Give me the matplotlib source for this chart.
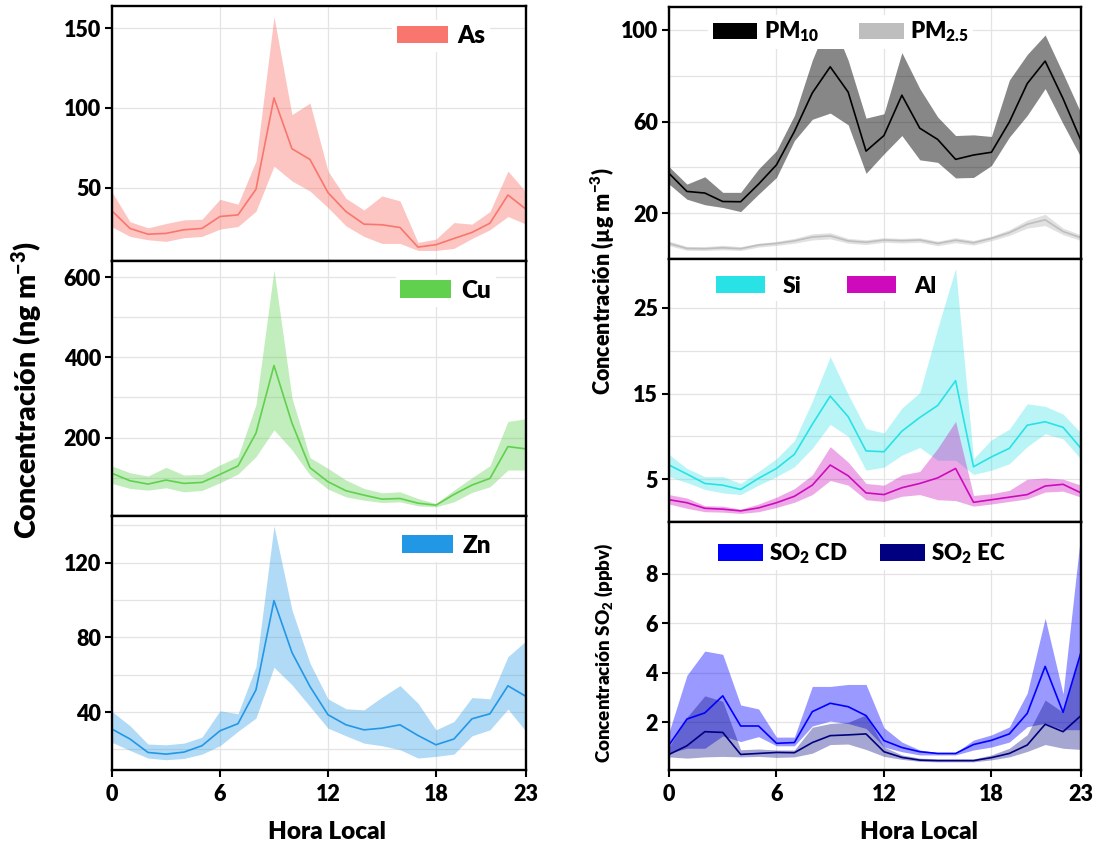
import numpy as np
import matplotlib
matplotlib.use("Agg")
import matplotlib.pyplot as plt
from matplotlib.patches import Patch

plt.rcParams['font.family'] = ['Lato', 'DejaVu Sans']
plt.rcParams['font.weight'] = 'heavy'
plt.rcParams['mathtext.fontset'] = 'custom'
plt.rcParams['mathtext.rm'] = 'Lato:heavy'
plt.rcParams['mathtext.it'] = 'Lato:heavy'
plt.rcParams['mathtext.bf'] = 'Lato:heavy'
plt.rcParams['mathtext.default'] = 'regular'

hours = np.arange(24)

# metales (ng m-3): media y banda
as_mean = [35.4, 24.4, 20.8, 21.3, 23.6, 24.4, 31.9, 32.9, 49.0, 106.3, 74.4, 67.7,
           46.9, 35.0, 27.1, 26.7, 25.0, 12.7, 14.2, 18.1, 21.9, 27.7, 45.4, 36.5]
as_hi = [47.3, 28.6, 24.8, 27.5, 29.8, 30.2, 42.7, 39.6, 66.7, 157.3, 95.8, 103.1,
         60.4, 43.3, 36.0, 44.8, 41.7, 15.6, 17.7, 28.1, 27.1, 35.0, 60.4, 47.3]
as_lo = [25.4, 19.4, 17.3, 16.3, 18.6, 19.4, 24.0, 25.6, 35.2, 63.5, 54.2, 47.9,
         37.5, 26.0, 19.4, 15.0, 15.0, 10.6, 10.6, 11.9, 18.1, 23.6, 31.9, 27.1]

cu_mean = [110.5, 92.1, 83.7, 93.7, 85.4, 87.9, 107.9, 128.9, 210.9, 379.9, 236.0, 124.7,
           89.6, 67.0, 56.1, 46.1, 47.7, 36.0, 31.0, 57.8, 81.2, 97.9, 177.4, 171.6]
cu_hi = [128.9, 112.1, 103.8, 125.5, 106.3, 107.9, 131.4, 152.3, 282.0, 618.4, 298.8, 149.8,
         123.0, 93.7, 72.8, 61.9, 64.4, 47.7, 35.2, 68.6, 99.6, 129.7, 240.2, 246.9]
cu_lo = [85.4, 72.8, 68.6, 74.5, 64.4, 67.8, 87.0, 108.8, 152.3, 219.2, 169.1, 106.3,
         71.1, 51.9, 43.5, 37.7, 39.4, 29.3, 26.8, 39.4, 62.8, 77.0, 118.8, 118.8]

zn_mean = [30.9, 25.6, 18.4, 17.5, 18.6, 22.0, 30.0, 33.8, 51.9, 99.7, 71.9, 53.7,
           38.6, 33.2, 30.5, 31.4, 33.2, 27.5, 22.5, 25.6, 36.4, 39.1, 54.1, 48.4]
zn_hi = [40.3, 32.7, 22.9, 22.5, 23.4, 26.6, 40.7, 39.1, 64.4, 139.6, 94.7, 66.2,
         47.1, 41.8, 41.2, 48.0, 54.2, 44.8, 30.5, 35.0, 47.8, 47.1, 69.7, 78.1]
zn_lo = [23.8, 19.5, 15.4, 14.5, 15.2, 17.5, 22.0, 29.7, 36.8, 64.0, 54.6, 43.0,
         31.4, 27.3, 23.4, 22.0, 19.9, 15.4, 16.3, 17.5, 27.3, 30.5, 41.6, 29.7]

# PM (ug m-3)
pm10_mean = [37.4, 29.5, 28.8, 25.1, 25.0, 32.7, 41.1, 55.7, 72.5, 83.9, 72.9, 47.1,
             53.9, 71.5, 57.1, 52.2, 43.5, 45.4, 46.6, 59.8, 76.6, 86.4, 70.0, 51.7]
pm10_hi = [40.3, 32.7, 35.9, 29.1, 29.1, 39.3, 47.3, 62.7, 86.8, 105.9, 86.8, 61.5,
           63.4, 90.1, 74.4, 62.0, 53.9, 54.2, 53.5, 78.1, 89.3, 97.8, 81.0, 63.7]
pm10_lo = [32.7, 26.1, 23.7, 22.5, 20.7, 28.3, 35.6, 51.7, 61.0, 63.7, 58.6, 37.4,
           45.9, 53.9, 43.3, 42.2, 35.4, 35.6, 40.8, 53.2, 62.7, 74.4, 59.0, 44.4]
pm25_mean = [6.8, 4.6, 4.5, 4.9, 4.5, 6.1, 6.8, 7.9, 9.6, 10.1, 7.9, 7.3,
             8.3, 8.0, 8.3, 6.8, 8.2, 7.1, 9.0, 11.5, 15.2, 17.1, 12.0, 9.3]
pm25_hi = [7.8, 5.5, 5.4, 6.0, 5.4, 6.9, 7.7, 9.0, 11.0, 11.5, 9.0, 8.4,
           9.3, 9.0, 9.3, 7.8, 9.3, 8.1, 10.0, 12.8, 17.0, 19.5, 13.5, 10.5]
pm25_lo = [5.8, 3.8, 3.7, 4.0, 3.7, 5.2, 5.9, 6.9, 8.3, 8.8, 6.9, 6.3,
           7.3, 7.0, 7.3, 5.8, 7.1, 6.1, 8.0, 10.3, 13.5, 14.6, 10.6, 8.1]

si_mean = [6.65, 5.6, 4.5, 4.3, 3.8, 5.1, 6.25, 7.9, 11.4, 14.7, 12.3, 8.3,
           8.2, 10.6, 12.2, 13.6, 16.5, 6.45, 7.6, 8.6, 11.3, 11.7, 11.05, 8.6]
si_hi = [7.9, 6.25, 5.3, 5.3, 4.5, 5.9, 7.4, 9.5, 14.1, 19.3, 14.9, 10.9,
         10.4, 13.3, 15.1, 22.6, 29.6, 7.4, 9.6, 10.85, 13.8, 13.5, 12.6, 10.4]
si_lo = [5.3, 4.6, 3.8, 3.4, 3.2, 4.3, 5.3, 6.45, 8.6, 11.4, 10.0, 6.05,
         6.4, 7.8, 8.7, 7.2, 7.2, 5.55, 6.05, 6.8, 8.8, 10.3, 9.7, 7.35]
al_mean = [2.6, 2.25, 1.6, 1.5, 1.3, 1.65, 2.25, 3.0, 4.3, 6.65, 5.4, 3.4,
           3.2, 4.0, 4.5, 5.15, 6.25, 2.3, 2.6, 2.9, 3.2, 4.2, 4.4, 3.4]
al_hi = [3.2, 2.8, 1.9, 1.85, 1.5, 2.1, 2.9, 3.9, 5.5, 8.8, 7.0, 4.5,
         4.3, 5.5, 5.9, 8.6, 11.75, 3.1, 3.3, 3.7, 5.0, 5.15, 5.0, 4.3]
al_lo = [2.1, 1.6, 1.2, 1.15, 1.0, 1.2, 1.7, 2.3, 3.2, 4.85, 4.3, 2.6,
         2.4, 3.0, 3.2, 2.6, 2.5, 1.85, 2.1, 2.4, 2.7, 3.5, 3.6, 2.9]

# SO2 (ppbv)
cd_mean = [1.08, 2.13, 2.38, 3.07, 1.85, 1.85, 1.15, 1.18, 2.43, 2.77, 2.63, 2.27,
           1.26, 0.98, 0.81, 0.74, 0.74, 1.1, 1.27, 1.53, 2.36, 4.26, 2.4, 4.83]
cd_hi = [1.6, 3.9, 4.88, 4.75, 2.7, 2.54, 1.4, 1.4, 3.45, 3.45, 3.53, 3.53,
         1.78, 1.2, 0.88, 0.77, 0.77, 1.28, 1.49, 1.81, 3.18, 6.21, 3.15, 9.7]
cd_lo = [0.75, 0.95, 0.95, 1.45, 1.22, 1.42, 1.05, 1.05, 1.85, 2.05, 1.95, 1.75,
         1.0, 0.81, 0.68, 0.68, 0.68, 0.88, 1.0, 1.2, 1.82, 1.96, 1.7, 1.7]
ec_mean = [0.7, 1.05, 1.62, 1.59, 0.7, 0.74, 0.78, 0.77, 1.18, 1.46, 1.49, 1.53,
           0.81, 0.58, 0.47, 0.45, 0.45, 0.45, 0.57, 0.74, 1.08, 1.92, 1.62, 2.27]
ec_hi = [1.0, 2.2, 3.07, 2.85, 0.89, 0.92, 0.88, 0.88, 1.8, 1.95, 2.0, 2.3,
         1.0, 0.68, 0.55, 0.52, 0.52, 0.52, 0.68, 0.95, 1.5, 2.9, 2.4, 4.9]
ec_lo = [0.6, 0.55, 0.6, 0.62, 0.6, 0.62, 0.58, 0.6, 0.75, 1.1, 1.12, 0.9,
         0.62, 0.5, 0.42, 0.4, 0.4, 0.4, 0.48, 0.6, 0.82, 1.1, 0.95, 0.9]

fig = plt.figure(figsize=(10.98, 8.47), dpi=100)


def panel(rect, ylim, yticks, yminor, bottom=False):
    ax = fig.add_axes(rect)
    ax.set_xlim(0, 23)
    ax.set_ylim(*ylim)
    ax.set_xticks([0, 6, 12, 18, 23])
    ax.set_yticks(yticks)
    ax.set_yticks(yminor, minor=True)
    ax.grid(True, which='both', color='#e4e4e4', lw=0.9)
    ax.set_axisbelow(True)
    for s in ax.spines.values():
        s.set_linewidth(1.7)
    ax.tick_params(axis='y', which='major', direction='out', length=5, width=1.5,
                   labelsize=15.5, pad=3)
    ax.tick_params(axis='y', which='minor', length=0)
    if bottom:
        ax.tick_params(axis='x', length=5, width=1.5, labelsize=15.5, pad=5)
    else:
        ax.tick_params(axis='x', length=0, labelbottom=False)
    return ax


def band(ax, mean, lo, hi, color, alpha, lc=None):
    ax.fill_between(hours, lo, hi, color=color, alpha=alpha, lw=0)
    ax.plot(hours, mean, color=lc or color, lw=1.2)


def legend(ax, labels, colors, anchor, fs, ncol=1, tp=0.4, cs=1.5, hl=2.1):
    handles = [Patch(facecolor=c, edgecolor='none') for c in colors]
    ax.legend(handles, labels, loc='upper left', bbox_to_anchor=anchor, ncol=ncol,
              frameon=True, framealpha=1, edgecolor='none', fancybox=False,
              fontsize=fs, handlelength=hl, handleheight=0.75, handletextpad=tp,
              columnspacing=cs, borderpad=0.2, borderaxespad=0)


L, W = 0.1020, 0.3770
ax1 = panel([L, 0.6919, W, 0.3010], (4, 164), [50, 100, 150], [])
ax2 = panel([L, 0.3908, W, 0.3011], (4, 641), [200, 400, 600], [100, 300, 500])
ax3 = panel([L, 0.0909, W, 0.2999], (9, 145), [40, 80, 120], [20, 60, 100, 140], bottom=True)

band(ax1, as_mean, as_lo, as_hi, '#F8766D', 0.42)
band(ax2, cu_mean, cu_lo, cu_hi, '#61D04F', 0.38)
band(ax3, zn_mean, zn_lo, zn_hi, '#2297E6', 0.35)
legend(ax1, ['As'], ['#F8766D'], (0.676, 0.945), 17.5)
legend(ax2, ['Cu'], ['#61D04F'], (0.685, 0.945), 17.5)
legend(ax3, ['Zn'], ['#2297E6'], (0.688, 0.945), 17.5)

R, RW = 0.6093, 0.3752
ax4 = panel([R, 0.6942, RW, 0.2975], (0, 110), [20, 60, 100], [40, 80])
ax5 = panel([R, 0.3837, RW, 0.3105], (0, 30.7), [5, 15, 25], [10, 20])
ax6 = panel([R, 0.0909, RW, 0.2928], (0.07, 10.1), [2, 4, 6, 8], [], bottom=True)

band(ax4, pm10_mean, pm10_lo, pm10_hi, 'black', 0.47)
band(ax4, pm25_mean, pm25_lo, pm25_hi, '#BEBEBE', 0.45)
band(ax5, si_mean, si_lo, si_hi, '#28E2E5', 0.32)
band(ax5, al_mean, al_lo, al_hi, '#CD0BBC', 0.35)
band(ax6, cd_mean, cd_lo, cd_hi, '#0000FF', 0.4)
band(ax6, ec_mean, ec_lo, ec_hi, '#000080', 0.35)
legend(ax4, ['PM$_{10}$', 'PM$_{2.5}$'], ['black', '#BEBEBE'], (0.095, 0.968), 16,
       ncol=2, tp=0.3, cs=1.8, hl=2.0)
legend(ax5, ['Si', 'Al'], ['#28E2E5', '#CD0BBC'], (0.104, 0.954), 16.5,
       ncol=2, tp=0.8, cs=2.0, hl=2.1)
legend(ax6, ['SO$_2$ CD', 'SO$_2$ EC'], ['#0000FF', '#000080'], (0.109, 0.94), 16,
       ncol=2, tp=0.3, cs=1.45, hl=2.0)

fig.text(27 / 1098, 1 - 390 / 847, 'Concentración (ng m$^{-3}$)', rotation=90,
         ha='center', va='center', fontsize=20.5)
fig.text(603 / 1098, 1 - 281 / 847, 'Concentración (µg m$^{-3}$)', rotation=90,
         ha='center', va='center', fontsize=15.5)
fig.text(604 / 1098, 1 - 653 / 847, 'Concentración SO$_2$ (ppbv)', rotation=90,
         ha='center', va='center', fontsize=13.5)
fig.text(327 / 1098, 1 - 832 / 847, 'Hora Local', ha='center', va='center', fontsize=17.5)
fig.text(919 / 1098, 1 - 832 / 847, 'Hora Local', ha='center', va='center', fontsize=17.5)

fig.savefig('out.png', dpi=100)
